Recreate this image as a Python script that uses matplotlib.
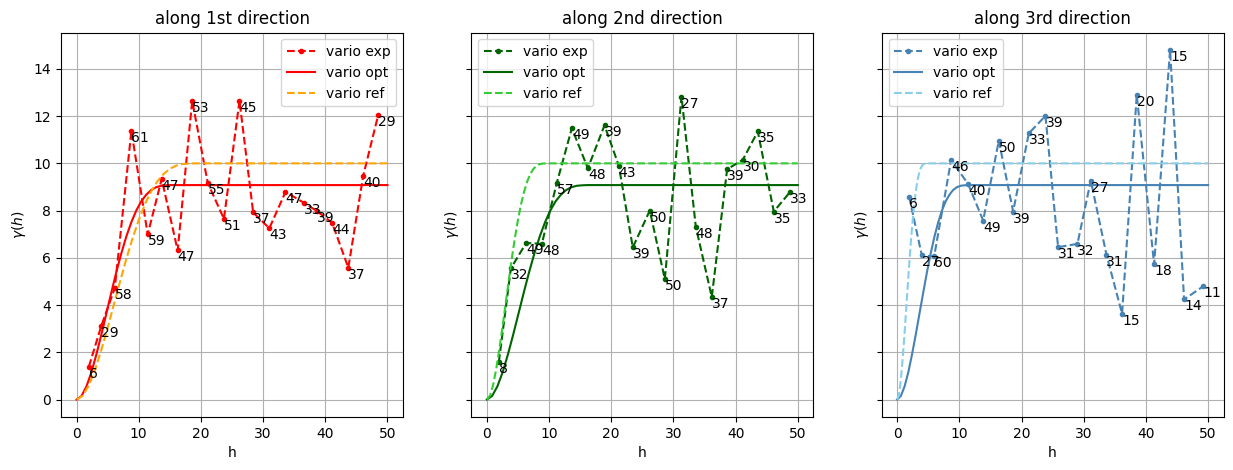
import numpy as np
import matplotlib.pyplot as plt

h_exp1 = [1.98, 3.96, 6.15, 8.82, 11.44, 13.69, 16.26, 18.6, 21.1, 23.7,
          26.2, 28.4, 31.0, 33.6, 36.5, 38.6, 41.1, 43.7, 46.1, 48.5]
g_exp1 = [1.39, 3.10, 4.72, 11.38, 6.99, 9.34, 6.31, 12.65, 9.17, 7.65,
          12.65, 7.92, 7.25, 8.79, 8.34, 7.99, 7.48, 5.58, 9.48, 12.04]
n_exp1 = [6, 29, 58, 61, 59, 47, 47, 53, 55, 51, 45, 37, 43, 47, 33, 39, 44, 37, 40, 29]

h_exp2 = [1.93, 3.86, 6.32, 8.84, 11.25, 13.67, 16.24, 18.92, 21.22, 23.47,
          26.2, 28.62, 31.3, 33.6, 36.17, 38.64, 41.16, 43.57, 46.14, 48.77]
g_exp2 = [1.59, 5.55, 6.63, 6.59, 9.17, 11.49, 9.79, 11.61, 9.90, 6.44,
          8.0, 5.10, 12.83, 7.32, 4.34, 9.75, 10.15, 11.35, 7.96, 8.79]
n_exp2 = [8, 32, 49, 48, 57, 49, 48, 39, 43, 39, 50, 50, 27, 48, 37, 39, 30, 35, 35, 33]

h_exp3 = [1.93, 3.97, 5.95, 8.68, 11.41, 13.83, 16.35, 18.65, 21.17, 23.85,
          25.88, 28.99, 31.14, 33.65, 36.17, 38.53, 41.32, 43.89, 46.14, 49.2]
g_exp3 = [8.59, 6.10, 6.06, 10.14, 9.13, 7.58, 10.96, 7.96, 11.27, 12.01,
          6.45, 6.59, 9.27, 6.14, 3.63, 12.90, 5.72, 14.80, 4.24, 4.79]
n_exp3 = [6, 27, 60, 46, 40, 49, 50, 39, 33, 39, 31, 32, 27, 31, 15, 20, 18, 15, 14, 11]

# model curves (same shape in each direction, only the h spacing differs)
g_opt = [0, 0.15, 0.56, 1.16, 1.92, 2.76, 3.65, 4.54, 5.40, 6.19, 6.90,
         7.50, 8.00, 8.39, 8.67, 8.87, 8.99, 9.05, 9.07, 9.08, 9.08, 9.08]
g_ref = [0, 0.16, 0.61, 1.28, 2.11, 3.04, 4.02, 5.00, 5.95, 6.82, 7.60,
         8.27, 8.81, 9.24, 9.55, 9.77, 9.90, 9.97, 9.99, 10.0, 10.0, 10.0]

h_opt1 = [0, 0.8, 1.6, 2.4, 3.2, 4.0, 4.8, 5.6, 6.4, 7.2, 8.0,
          8.8, 9.6, 10.4, 11.2, 12.0, 12.8, 13.6, 14.4, 15.2, 16.0, 50]
h_opt2 = [0, 0.85, 1.7, 2.55, 3.4, 4.25, 5.1, 5.95, 6.8, 7.65, 8.5,
          9.35, 10.2, 11.05, 11.9, 12.75, 13.6, 14.45, 15.3, 16.15, 17.0, 50]
h_opt3 = [0, 0.6, 1.2, 1.8, 2.4, 3.0, 3.6, 4.2, 4.8, 5.4, 6.0,
          6.6, 7.2, 7.8, 8.4, 9.0, 9.6, 10.2, 10.8, 11.4, 12.0, 50]
h_ref1 = [0, 1, 2, 3, 4, 5, 6, 7, 8, 9, 10,
          11, 12, 13, 14, 15, 16, 17, 18, 19, 20, 50]
h_ref2 = [0, 0.5, 1.0, 1.5, 2.0, 2.5, 3.0, 3.5, 4.0, 4.5, 5.0,
          5.5, 6.0, 6.5, 7.0, 7.5, 8.0, 8.5, 9.0, 9.5, 10.0, 50]
h_ref3 = [0, 0.25, 0.5, 0.75, 1.0, 1.25, 1.5, 1.75, 2.0, 2.25, 2.5,
          2.75, 3.0, 3.25, 3.5, 3.75, 4.0, 4.25, 4.5, 4.75, 5.0, 50]

titles = ["along 1st direction", "along 2nd direction", "along 3rd direction"]
cols = [("red", "orange"), ("darkgreen", "limegreen"), ("steelblue", "skyblue")]
locs = ["upper right", "upper left", "upper left"]

fig = plt.figure(figsize=(12.33, 4.7), dpi=100)
axs = []
for k in range(3):
    left = (61 + 410.3 * k) / 1233
    if k == 0:
        ax = fig.add_axes([left, 0.1128, 0.2774, 0.818])
    else:
        ax = fig.add_axes([left, 0.1128, 0.2774, 0.818], sharey=axs[0])
    axs.append(ax)

data = [(h_exp1, g_exp1, n_exp1, h_opt1, h_ref1),
        (h_exp2, g_exp2, n_exp2, h_opt2, h_ref2),
        (h_exp3, g_exp3, n_exp3, h_opt3, h_ref3)]

for k, ax in enumerate(axs):
    he, ge, ne, ho, hr = data[k]
    c1, c2 = cols[k]
    ax.plot(he, ge, ".--", color=c1, label="vario exp")
    ax.plot(ho, g_opt, "-", color=c1, label="vario opt")
    ax.plot(hr, g_ref, "--", color=c2, label="vario ref")
    for x, y, n in zip(he, ge, ne):
        ax.text(x, y, str(n), ha="left", va="top", fontsize=10)
    ax.set_title(titles[k], fontsize=12)
    ax.set_xlabel("h")
    ax.set_ylabel(r"$\gamma(h)$")
    ax.grid(True)
    ax.legend(loc=locs[k])
    if k > 0:
        ax.tick_params(labelleft=False)

axs[0].set_xlim(-2.5, 52.5)
axs[1].set_xlim(-2.5, 52.5)
axs[2].set_xlim(-2.5, 52.5)
axs[0].set_ylim(-0.74, 15.54)

plt.savefig("out.png", dpi=100)
